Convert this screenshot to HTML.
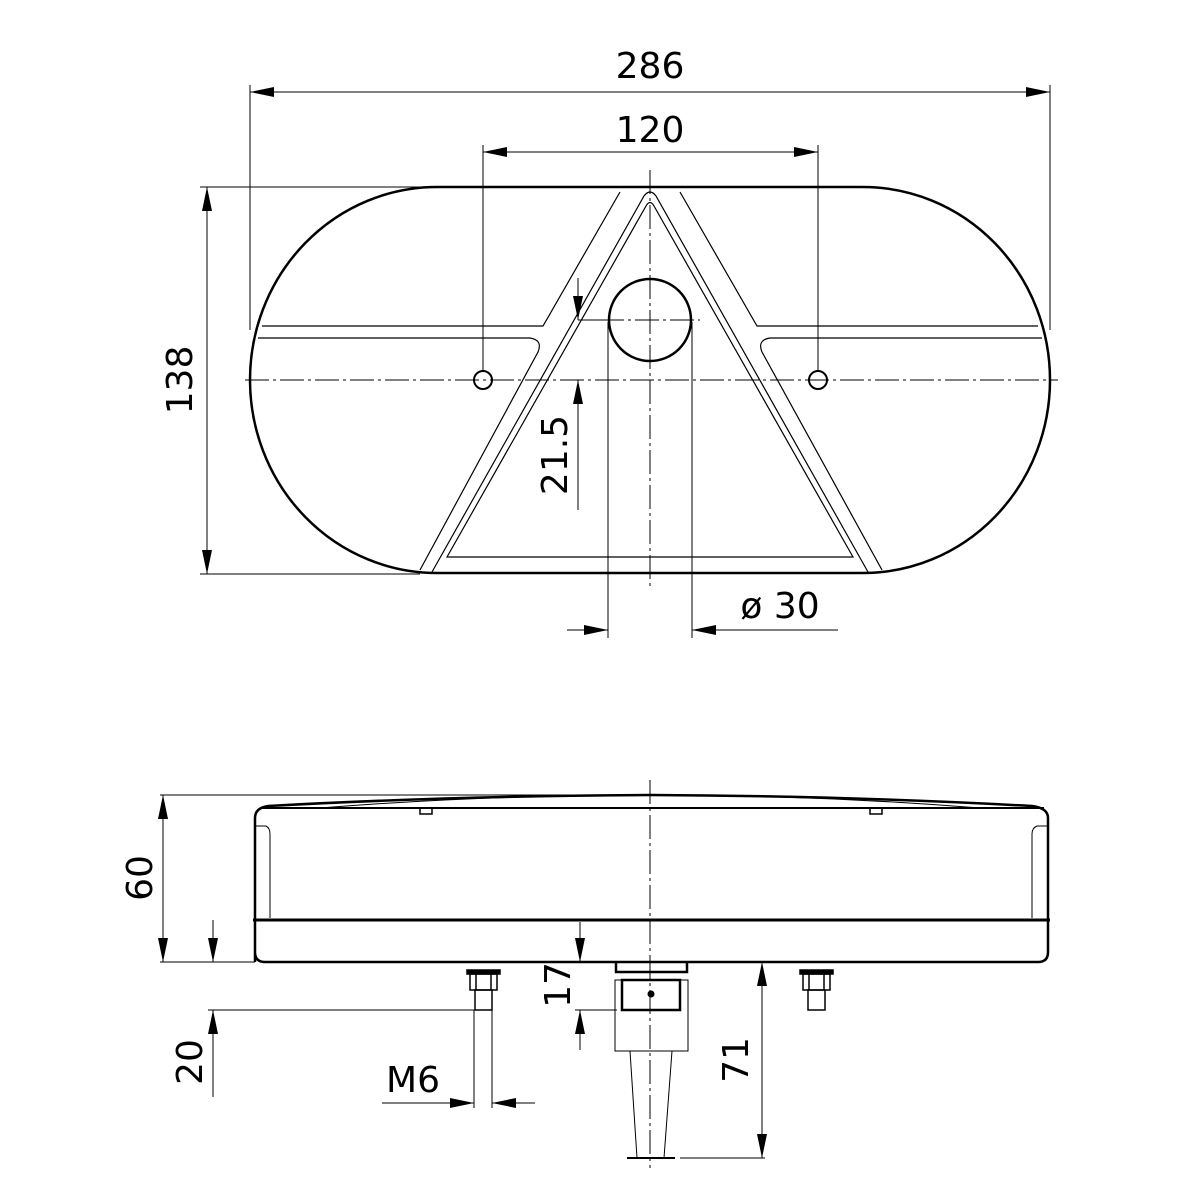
<!DOCTYPE html>
<html><head><meta charset="utf-8"><style>
html,body{margin:0;padding:0;background:#fff}
svg{display:block}
text{font-family:"DejaVu Sans","Liberation Sans",sans-serif;fill:#000}
</style></head><body>
<svg width="1200" height="1200" viewBox="0 0 1200 1200" xmlns="http://www.w3.org/2000/svg">
<defs>
<marker id="a" viewBox="0 0 24 10" refX="24" refY="5" markerWidth="24" markerHeight="10" markerUnits="userSpaceOnUse" orient="auto-start-reverse"><path d="M0,0 L24,5 L0,10 Z" fill="#000"/></marker>
</defs>
<g fill="none" stroke="#000">
<g stroke-width="1" stroke-dasharray="24,4,3,4">
<line x1="650" y1="170" x2="650" y2="590"/>
<line x1="245" y1="380" x2="1058" y2="380"/>
<line x1="600" y1="320" x2="700" y2="320"/>
<line x1="650" y1="780" x2="650" y2="1168"/>
</g>
<path d="M437,187 L863,187 A187,193 0 0 1 863,573 L437,573 A187,193 0 0 1 437,187 Z" stroke-width="2.5"/>
<g stroke-width="1.2">
<path d="M262,326 L543,326 L620,192"/>
<path d="M258,338 L530,338 Q543,340 538,352 L420,570"/>
<path d="M1038,326 L757,326 L680,192"/>
<path d="M1042,338 L770,338 Q757,340 762,352 L882,570"/>
<path d="M432,572 L644,196 Q650,188 656,196 L868,572"/>
<path d="M447,557 L646,206 Q650,199 654,206 L853,557 Z"/>
</g>
<circle cx="650" cy="320" r="41" stroke-width="2.5"/>
<circle cx="483" cy="380" r="9" stroke-width="2"/>
<circle cx="818" cy="380" r="9" stroke-width="2"/>
<g stroke-width="1">
<line x1="250" y1="85" x2="250" y2="330"/>
<line x1="1050" y1="85" x2="1050" y2="330"/>
<line x1="250" y1="92" x2="1050" y2="92" marker-start="url(#a)" marker-end="url(#a)"/>
<line x1="483" y1="145" x2="483" y2="372"/>
<line x1="818" y1="145" x2="818" y2="372"/>
<line x1="483" y1="152" x2="818" y2="152" marker-start="url(#a)" marker-end="url(#a)"/>
<line x1="200" y1="187" x2="440" y2="187"/>
<line x1="200" y1="574" x2="420" y2="574"/>
<line x1="207" y1="187" x2="207" y2="574" marker-start="url(#a)" marker-end="url(#a)"/>
<line x1="578" y1="278" x2="578" y2="320" marker-end="url(#a)"/>
<line x1="578" y1="510" x2="578" y2="380" marker-end="url(#a)"/>
<line x1="578" y1="320" x2="600" y2="320"/>
<line x1="608" y1="322" x2="608" y2="638"/>
<line x1="692" y1="322" x2="692" y2="638"/>
<line x1="567" y1="630" x2="608" y2="630" marker-end="url(#a)"/>
<line x1="838" y1="630" x2="692" y2="630" marker-end="url(#a)"/>
</g>
<path d="M255,962 L255,818 Q255,808 268,806 Q450,796 650,795 Q850,796 1032,806 Q1048,808 1048,818 L1048,952 Q1048,962 1038,962 L265,962 Q255,962 255,952" stroke-width="2.5"/>
<line x1="260" y1="808" x2="1044" y2="808" stroke-width="2"/>
<line x1="253" y1="920" x2="1050" y2="920" stroke-width="3"/>
<path d="M420,808 L420,814 L432,814 L432,808 M870,808 L870,814 L882,814 L882,808" stroke-width="1.5"/>
<path d="M320,808 Q420,800 520,797 M980,808 Q880,800 780,797" stroke-width="1"/>
<path d="M255,826 L266,826 Q270,828 270,834 L270,918 M1048,826 L1037,826 Q1032,828 1032,834 L1032,918" stroke-width="1"/>
<g stroke-width="1.5">
<rect x="467" y="970" width="33" height="4" fill="#000"/>
<rect x="470" y="974" width="27" height="16"/>
<line x1="476" y1="974" x2="476" y2="990"/><line x1="491" y1="974" x2="491" y2="990"/>
<rect x="475" y="990" width="17" height="20"/>
<rect x="800" y="970" width="33" height="4" fill="#000"/>
<rect x="803" y="974" width="27" height="16"/>
<line x1="809" y1="974" x2="809" y2="990"/><line x1="824" y1="974" x2="824" y2="990"/>
<rect x="808" y="990" width="17" height="20"/>
</g>
<path d="M616,962 L616,972 L687,972 L687,962" stroke-width="2.5"/>
<rect x="622" y="980" width="58" height="30" stroke-width="2.5"/>
<rect x="615" y="980" width="73" height="71" stroke-width="1"/>
<circle cx="651" cy="994" r="3" fill="#000"/>
<path d="M630,1051 L637,1158 M672,1051 L664,1158" stroke-width="1"/>
<line x1="627" y1="1158" x2="675" y2="1158" stroke-width="2"/>
<g stroke-width="1">
<line x1="160" y1="795" x2="650" y2="795"/>
<line x1="160" y1="962" x2="255" y2="962"/>
<line x1="163" y1="795" x2="163" y2="962" marker-start="url(#a)" marker-end="url(#a)"/>
<line x1="213" y1="920" x2="213" y2="962" marker-end="url(#a)"/>
<line x1="213" y1="1097" x2="213" y2="1010" marker-end="url(#a)"/>
<line x1="208" y1="1010" x2="475" y2="1010"/>
<line x1="474" y1="1010" x2="474" y2="1108"/>
<line x1="492" y1="1010" x2="492" y2="1108"/>
<line x1="382" y1="1103" x2="474" y2="1103" marker-end="url(#a)"/>
<line x1="535" y1="1103" x2="492" y2="1103" marker-end="url(#a)"/>
<line x1="580" y1="922" x2="580" y2="962" marker-end="url(#a)"/>
<line x1="580" y1="1050" x2="580" y2="1010" marker-end="url(#a)"/>
<line x1="575" y1="1010" x2="617" y2="1010"/>
<line x1="762" y1="962" x2="762" y2="1158" marker-start="url(#a)" marker-end="url(#a)"/>
<line x1="680" y1="1158" x2="765" y2="1158"/>
</g>
</g>
<g font-size="36">
<text x="650" y="78" text-anchor="middle">286</text>
<text x="650" y="142" text-anchor="middle">120</text>
<text transform="translate(192,380) rotate(-90)" text-anchor="middle">138</text>
<text transform="translate(567,455) rotate(-90)" text-anchor="middle">21.5</text>
<text x="780" y="618" text-anchor="middle">ø 30</text>
<text transform="translate(152,878) rotate(-90)" text-anchor="middle">60</text>
<text transform="translate(202,1062) rotate(-90)" text-anchor="middle">20</text>
<text x="413" y="1092" text-anchor="middle">M6</text>
<text transform="translate(570,985) rotate(-90)" text-anchor="middle">17</text>
<text transform="translate(748,1060) rotate(-90)" text-anchor="middle">71</text>
</g>
</svg>
</body></html>
